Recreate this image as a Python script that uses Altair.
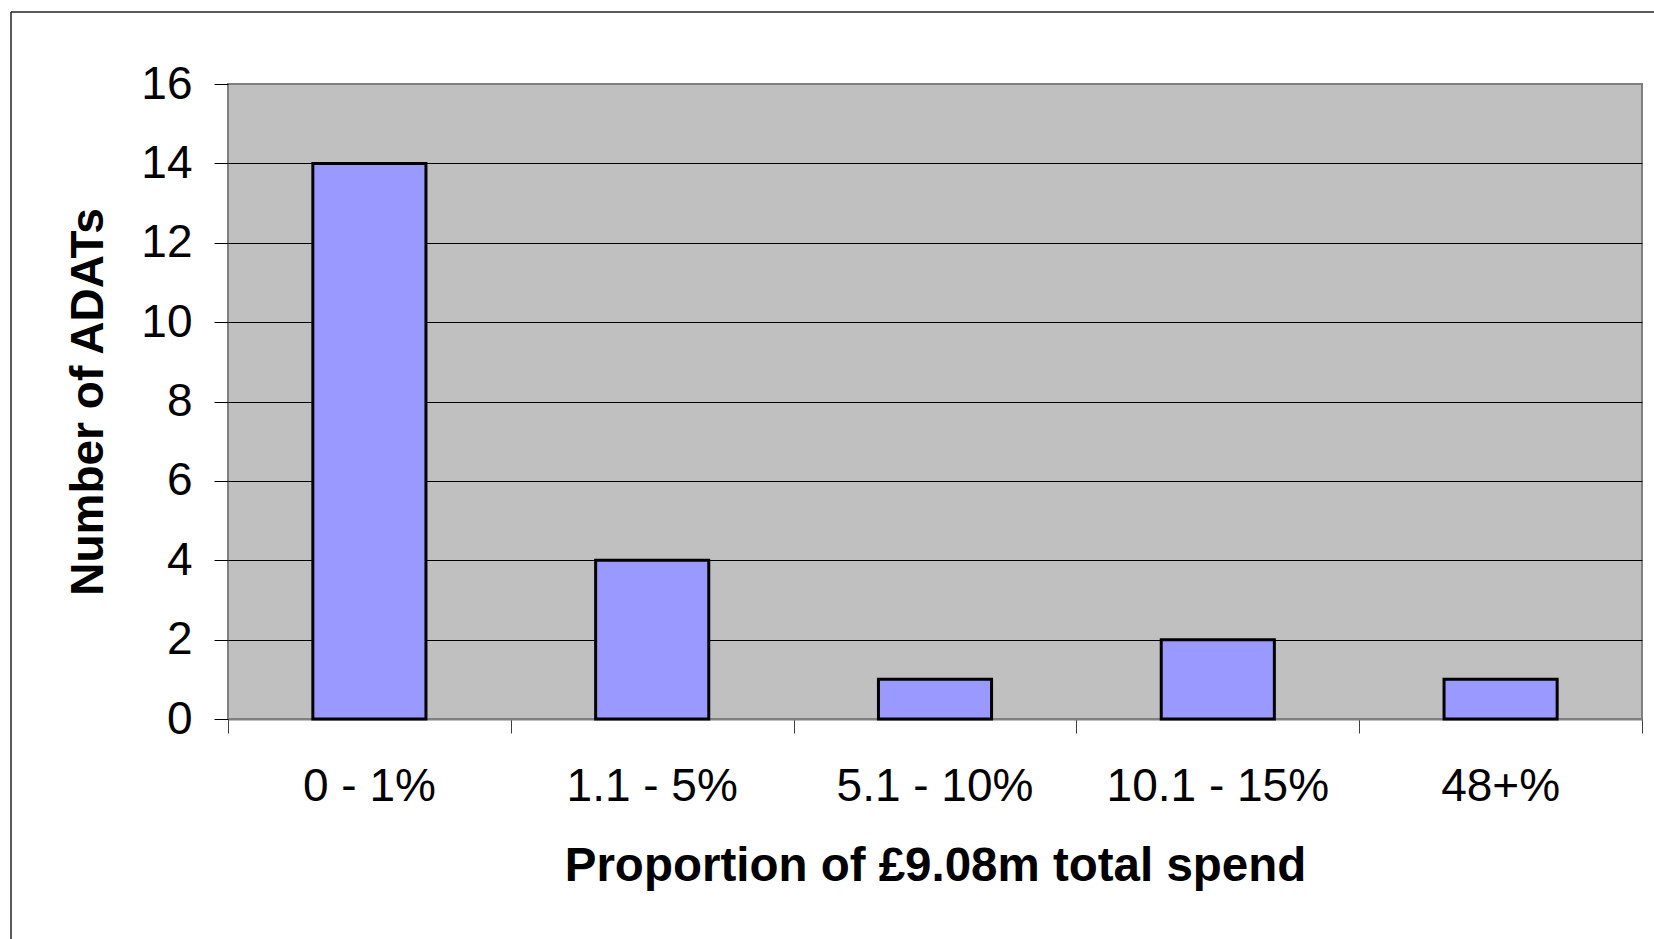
import altair as alt
import pandas as pd

categories = ["0 - 1%", "1.1 - 5%", "5.1 - 10%", "10.1 - 15%", "48+%"]
counts = [14, 4, 1, 2, 1]
y_ticks = [0, 2, 4, 6, 8, 10, 12, 14, 16]
boundaries = [0, 1, 2, 3, 4, 5]

df = pd.DataFrame({"cat": categories, "count": counts, "idx": list(range(len(categories)))})

W, H = 1414, 635
FONT = "Liberation Sans"

bars = alt.Chart(df).mark_bar(
    color="#9999FF", stroke="black", strokeWidth=3
).encode(
    x=alt.X(
        "cat:N",
        sort=categories,
        scale=alt.Scale(paddingInner=0.6, paddingOuter=0.3),
        axis=alt.Axis(
            orient="bottom",
            title="Proportion of £9.08m total spend",
            titleFontSize=47.5,
            titleFontWeight="bold",
            titleFont=FONT,
            titleColor="black",
            titlePadding=33,
            labelFontSize=46,
            labelFont=FONT,
            labelColor="black",
            labelPadding=45,
            labelAngle=0,
            labelLimit=0,
            ticks=False,
            tickSize=0,
            domain=False,
            grid=False,
        ),
    ),
    y=alt.Y(
        "count:Q",
        scale=alt.Scale(domain=[0, 16], nice=False),
        axis=alt.Axis(
            values=y_ticks,
            title="Number of ADATs",
            titleFontSize=46,
            titleFontWeight="bold",
            titleFont=FONT,
            titleColor="black",
            titlePadding=28,
            labelFontSize=46,
            labelFont=FONT,
            labelColor="black",
            labelPadding=22,
            tickSize=14,
            tickColor="black",
            tickWidth=1,
            domain=False,
            grid=True,
            gridColor={
                "condition": {"test": "datum.value == 16 || datum.value == 0", "value": "#808080"},
                "value": "black",
            },
            gridWidth=1,
            gridOpacity=1,
        ),
    ),
)

edge_ticks = alt.Chart(df).mark_point(opacity=0).encode(
    x=alt.X(
        "idx:Q",
        scale=alt.Scale(domain=[0, len(categories)], nice=False, zero=False),
        axis=alt.Axis(
            orient="bottom",
            values=boundaries,
            labels=False,
            title=None,
            ticks=True,
            tickSize=14,
            tickColor="#404040",
            tickWidth=1,
            domain=True,
            domainColor="#808080",
            domainWidth=2,
            grid=False,
        ),
    ),
    y=alt.value(0),
)

frame_df = pd.DataFrame({"k": [0]})
frame_top = alt.Chart(frame_df).mark_rule(color="#222222", strokeWidth=1.5).encode(
    x=alt.value(-217), x2=alt.value(1426), y=alt.value(-72)
)
frame_left = alt.Chart(frame_df).mark_rule(color="#222222", strokeWidth=1.5).encode(
    x=alt.value(-217), y=alt.value(-72), y2=alt.value(855)
)

chart = alt.layer(bars, edge_ticks, frame_top, frame_left).resolve_scale(
    x="independent"
).properties(
    width=W,
    height=H,
    autosize=alt.AutoSizeParams(type="none"),
    padding={"left": 228, "top": 84, "right": 12, "bottom": 220},
    background="white",
).configure_view(
    fill="#C0C0C0", stroke="#808080", strokeWidth=2
)

chart.save("out.html", embed_options={"renderer": "svg", "actions": False})
